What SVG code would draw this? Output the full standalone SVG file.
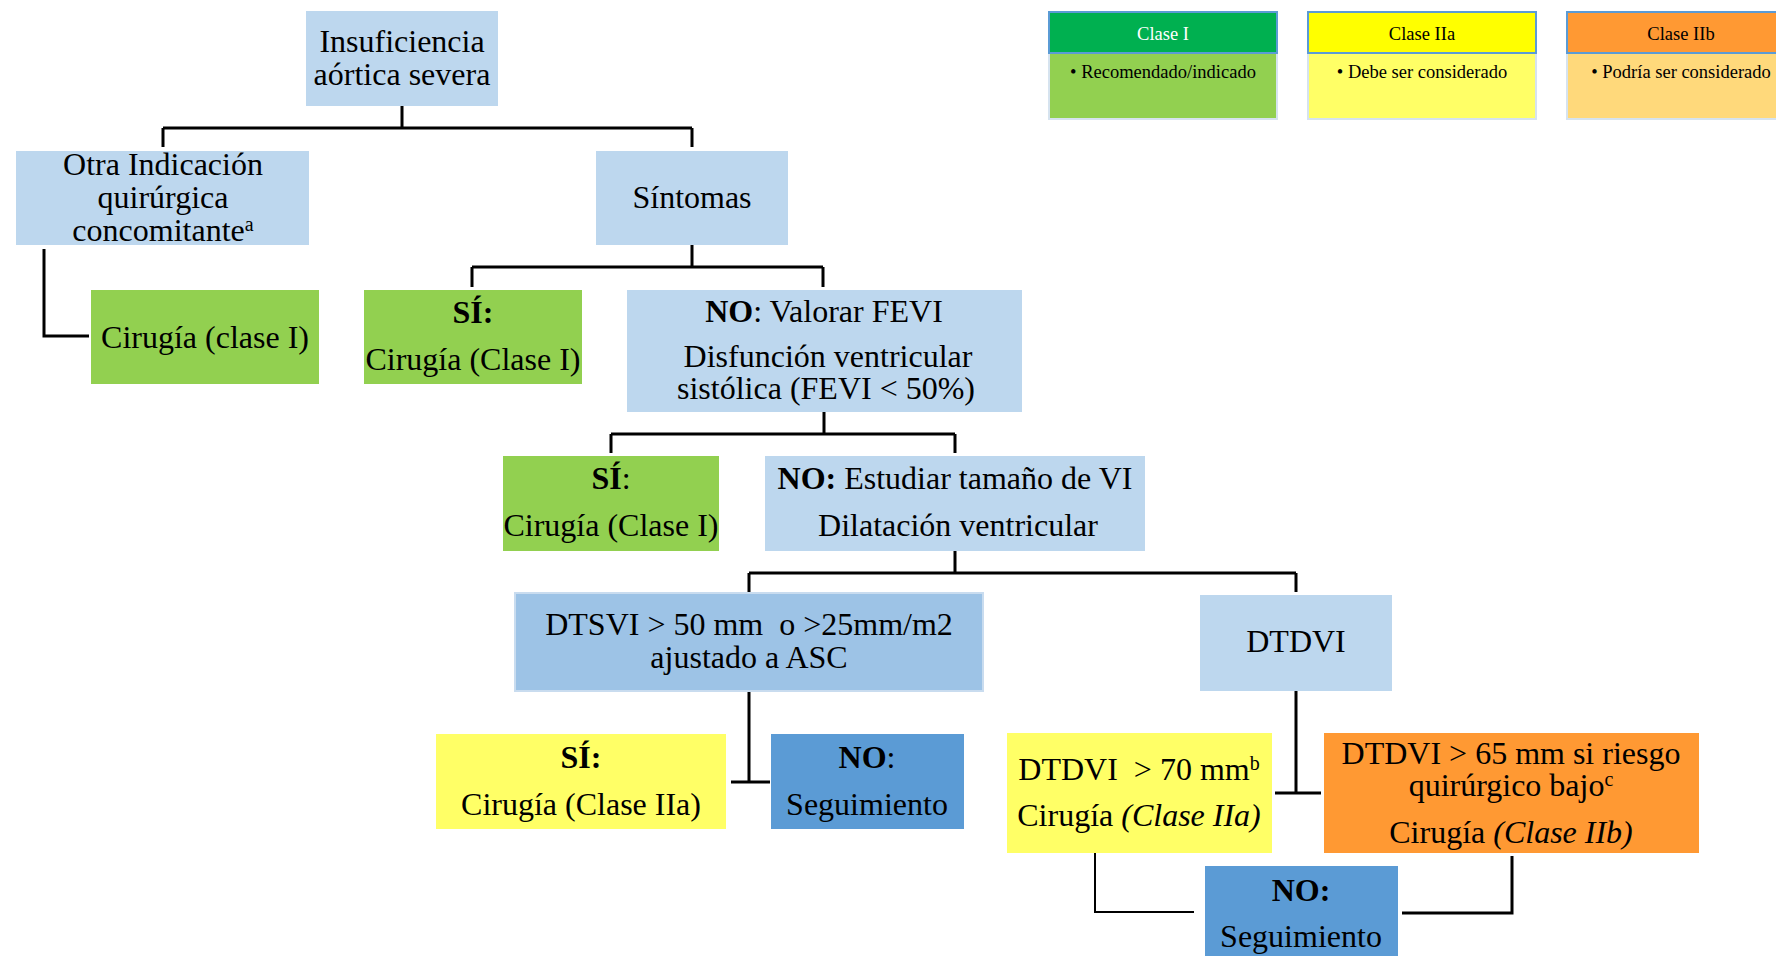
<svg xmlns="http://www.w3.org/2000/svg" width="1776" height="956" viewBox="0 0 1776 956">
<style>
text{font-family:"Liberation Serif","Times New Roman",serif;fill:#000;text-anchor:middle}
.t{font-size:32px}
.l{font-size:18.5px}
.b{font-weight:bold}
.i{font-style:italic}
.sup{font-size:20px}
.lb{fill:#BDD7EE}
.gr{fill:#92D050}
.ye{fill:#FFFF66}
.or{fill:#FF9933}
.bl{fill:#5B9BD5}
.conn{fill:none;stroke:#000;stroke-width:3}
.thin{stroke-width:2}
</style>
<rect width="1776" height="956" fill="#fff"/>

<g id="legend">
  <g id="leg-c1">
    <rect x="1049" y="53" width="228" height="66" fill="#92D050" stroke="#D6E3EF" stroke-width="2"/>
    <rect x="1049" y="12" width="228" height="41" fill="#00B050" stroke="#5B9BD5" stroke-width="2"/>
    <text class="l" x="1163" y="40" style="fill:#fff">Clase I</text>
    <text class="l" x="1163" y="78">• Recomendado/indicado</text>
  </g>
  <g id="leg-c2a">
    <rect x="1308" y="53" width="228" height="66" fill="#FFFF66" stroke="#D6E3EF" stroke-width="2"/>
    <rect x="1308" y="12" width="228" height="41" fill="#FFFF00" stroke="#5B9BD5" stroke-width="2"/>
    <text class="l" x="1422" y="40">Clase IIa</text>
    <text class="l" x="1422" y="78">• Debe ser considerado</text>
  </g>
  <g id="leg-c2b">
    <rect x="1567" y="53" width="228" height="66" fill="#FFD97B" stroke="#D6E3EF" stroke-width="2"/>
    <rect x="1567" y="12" width="228" height="41" fill="#FF9933" stroke="#5B9BD5" stroke-width="2"/>
    <text class="l" x="1681" y="40">Clase IIb</text>
    <text class="l" x="1681" y="78">• Podría ser considerado</text>
  </g>
</g>

<g id="connectors">
  <path class="conn" d="M402,106 V128 M163,128 H692 M163,128 V147 M692,128 V147"/>
  <path class="conn" d="M44,249 V336 H89"/>
  <path class="conn" d="M692,245 V267 M472,267 H823 M472,267 V287 M823,267 V287"/>
  <path class="conn" d="M824,412 V434 M611,434 H955 M611,434 V453 M955,434 V453"/>
  <path class="conn" d="M955,551 V573 M749,573 H1296 M749,573 V592 M1296,573 V592"/>
  <path class="conn" d="M749,691 V782 M731,782 H770"/>
  <path class="conn" d="M1296,691 V793 M1275,793 H1321"/>
  <path class="conn thin" d="M1095,853 V912 H1194"/>
  <path class="conn" d="M1512,856 V913 H1402"/>
</g>

<g id="n-root">
  <rect class="lb" x="306" y="11" width="192" height="95"/>
  <text class="t" x="402" y="52">Insuficiencia</text>
  <text class="t" x="402" y="85">aórtica severa</text>
</g>
<g id="n-otra">
  <rect class="lb" x="16" y="151" width="293" height="94"/>
  <text class="t" x="163" y="175">Otra Indicación</text>
  <text class="t" x="163" y="208">quirúrgica</text>
  <text class="t" x="163" y="241">concomitante<tspan class="sup" dy="-10">a</tspan></text>
</g>
<g id="n-sintomas">
  <rect class="lb" x="596" y="151" width="192" height="94"/>
  <text class="t" x="692" y="208">Síntomas</text>
</g>
<g id="n-cirugia1">
  <rect class="gr" x="91" y="290" width="228" height="94"/>
  <text class="t" x="205" y="348">Cirugía (clase I)</text>
</g>
<g id="n-si1">
  <rect class="gr" x="364" y="290" width="218" height="94"/>
  <text class="t b" x="473" y="323">SÍ:</text>
  <text class="t" x="473" y="370">Cirugía (Clase I)</text>
</g>
<g id="n-no-fevi">
  <rect class="lb" x="627" y="290" width="395" height="122"/>
  <text class="t" x="824" y="322"><tspan class="b">NO</tspan>: Valorar FEVI</text>
  <text class="t" x="828" y="367">Disfunción ventricular</text>
  <text class="t" x="826" y="399">sistólica (FEVI &lt; 50%)</text>
</g>
<g id="n-si2">
  <rect class="gr" x="503" y="456" width="216" height="95"/>
  <text class="t" x="611" y="489"><tspan class="b">SÍ</tspan>:</text>
  <text class="t" x="611" y="536">Cirugía (Clase I)</text>
</g>
<g id="n-no-vi">
  <rect class="lb" x="765" y="456" width="380" height="95"/>
  <text class="t" x="955" y="489"><tspan class="b">NO:</tspan> Estudiar tamaño de VI</text>
  <text class="t" x="958" y="536">Dilatación ventricular</text>
</g>
<g id="n-dtsvi">
  <rect x="515" y="593" width="468" height="98" fill="#9DC3E6" stroke="#C9DCEF" stroke-width="2"/>
  <text class="t" x="749" y="635" xml:space="preserve">DTSVI &gt; 50 mm  o &gt;25mm/m2</text>
  <text class="t" x="749" y="668">ajustado a ASC</text>
</g>
<g id="n-dtdvi">
  <rect class="lb" x="1200" y="595" width="192" height="96"/>
  <text class="t" x="1296" y="652">DTDVI</text>
</g>
<g id="n-si3">
  <rect class="ye" x="436" y="734" width="290" height="95"/>
  <text class="t b" x="581" y="768">SÍ:</text>
  <text class="t" x="581" y="815">Cirugía (Clase IIa)</text>
</g>
<g id="n-no1">
  <rect class="bl" x="771" y="734" width="193" height="95"/>
  <text class="t" x="867" y="768"><tspan class="b">NO</tspan>:</text>
  <text class="t" x="867" y="815">Seguimiento</text>
</g>
<g id="n-dtdvi70">
  <rect class="ye" x="1007" y="733" width="265" height="120"/>
  <text class="t" x="1139" y="780" xml:space="preserve">DTDVI  &gt; 70 mm<tspan class="sup" dy="-10">b</tspan></text>
  <text class="t" x="1139" y="826">Cirugía <tspan class="i">(Clase IIa)</tspan></text>
</g>
<g id="n-dtdvi65">
  <rect class="or" x="1324" y="733" width="375" height="120"/>
  <text class="t" x="1511" y="764">DTDVI &gt; 65 mm si riesgo</text>
  <text class="t" x="1511" y="796">quirúrgico bajo<tspan class="sup" dy="-10">c</tspan></text>
  <text class="t" x="1511" y="843">Cirugía <tspan class="i">(Clase IIb)</tspan></text>
</g>
<g id="n-no2">
  <rect class="bl" x="1205" y="866" width="193" height="95"/>
  <text class="t b" x="1301" y="901">NO:</text>
  <text class="t" x="1301" y="947">Seguimiento</text>
</g>
</svg>
